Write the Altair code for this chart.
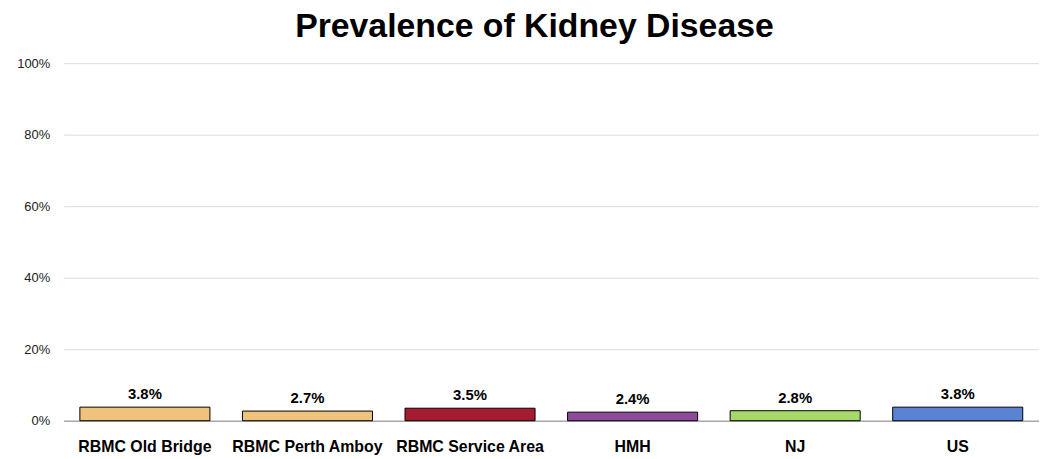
import altair as alt
import pandas as pd

categories = ["RBMC Old Bridge", "RBMC Perth Amboy", "RBMC Service Area", "HMH", "NJ", "US"]
values = [0.038, 0.027, 0.035, 0.024, 0.028, 0.038]
colors = ["#F0C27B", "#F0C27B", "#A51C30", "#8E4A9C", "#A6D96A", "#5A83D4"]
labels = ["3.8%", "2.7%", "3.5%", "2.4%", "2.8%", "3.8%"]

df = pd.DataFrame({"cat": categories, "val": values, "color": colors, "label": labels})

narrow = "Liberation Sans Narrow, Arial Narrow, Liberation Sans, Arial, sans-serif"

x = alt.X("cat:N", sort=categories, title=None,
          scale=alt.Scale(paddingInner=0.2, paddingOuter=0.1),
          axis=alt.Axis(labelAngle=0, labelFont=narrow, labelFontWeight="bold",
                        labelFontSize=16, labelColor="#000", labelPadding=18,
                        ticks=False, domainColor="#aaaaaa", domainWidth=1.5))

bars = alt.Chart(df).mark_bar(stroke="#000", strokeWidth=1).encode(
    x=x,
    y=alt.Y("val:Q", title=None,
            scale=alt.Scale(domain=[0, 1]),
            axis=alt.Axis(format=".0%", values=[0, 0.2, 0.4, 0.6, 0.8, 1.0],
                          labelFont="Liberation Sans, Arial, sans-serif", labelFontSize=13,
                          labelColor="#222", labelPadding=14, ticks=False, domain=False,
                          gridColor="#dddddd")),
    color=alt.Color("color:N", scale=None),
)

text = alt.Chart(df).mark_text(dy=-13, font=narrow, fontWeight="bold", fontSize=15, color="#000").encode(
    x=alt.X("cat:N", sort=categories),
    y="val:Q",
    text="label:N",
)

chart = (bars + text).properties(
    width=982, height=360,
    title=alt.TitleParams("Prevalence of Kidney Disease", fontSize=34, fontWeight="bold",
                          font="Liberation Sans, Arial, sans-serif", color="#000",
                          anchor="middle", offset=13, dx=-17),
    autosize=alt.AutoSizeParams(type="none"),
    padding={"left": 56, "top": 54, "right": 0, "bottom": 37},
).configure_view(stroke=None)

chart.save("out.html", embed_options={"renderer": "svg", "actions": False})
